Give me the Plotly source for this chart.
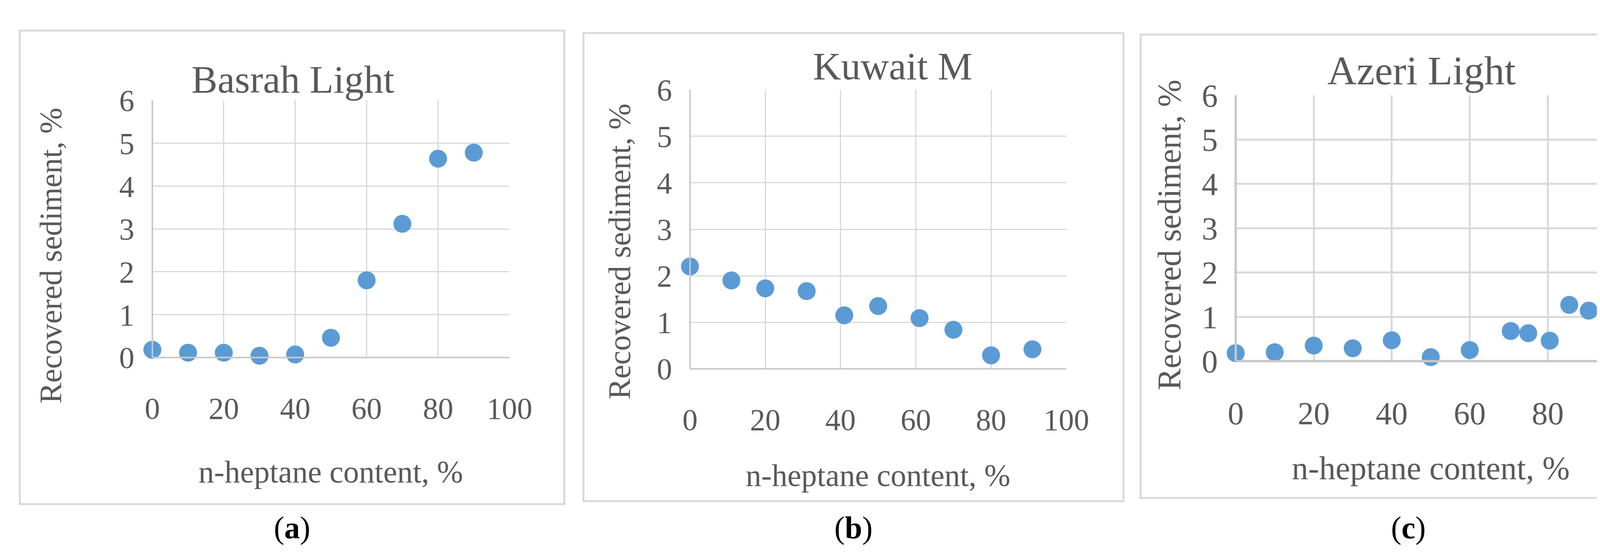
import plotly.graph_objects as go

# Basrah Light
x_a = [0, 10, 20, 30, 40, 50, 60, 70, 80, 90]
y_a = [0.18, 0.11, 0.11, 0.04, 0.07, 0.46, 1.80, 3.12, 4.64, 4.78]
# Kuwait M
x_b = [0, 11, 20, 31, 41, 50, 61, 70, 80, 91]
y_b = [2.20, 1.90, 1.73, 1.67, 1.15, 1.35, 1.09, 0.84, 0.29, 0.42]
# Azeri Light
x_c = [0, 10, 20, 30, 40, 50, 60, 70.5, 75, 80.5, 85.5, 90.5, 96]
y_c = [0.18, 0.20, 0.35, 0.29, 0.47, 0.09, 0.25, 0.68, 0.63, 0.46, 1.27, 1.14, 0.59]

titles = ["Basrah Light", "Kuwait M", "Azeri Light"]
labels = ["a", "b", "c"]
x_ticks = [0, 20, 40, 60, 80, 100]
y_ticks = [0, 1, 2, 3, 4, 5, 6]

W, H = 4375, 1426
def px(v): return v / W
def py(v): return 1 - v / H

# panel geometry in pixels
panels = [
    dict(box=(22, 28, 1443, 1323), px=(368, 1300), py=(922, 219), title_x=735, title_y=162, xt_y=1235, yt_x=103, yt_y=643, fs=78),
    dict(box=(1493, 35, 2902, 1315), px=(1771, 2753), py=(953, 190), title_x=2300, title_y=125, xt_y=1244, yt_x=1587, yt_y=632, fs=78),
    dict(box=(2947, 39, 4345, 1306), px=(3195, 4213), py=(932, 205), title_x=3680, title_y=137, xt_y=1225, yt_x=3022, yt_y=587, fs=82),
]
cap_y = 1388

grey = "#595959"
font = "Liberation Serif"
fig = go.Figure()
data = [(x_a, y_a), (x_b, y_b), (x_c, y_c)]
shapes, annos = [], []
for i, (p, (xs, ys)) in enumerate(zip(panels, data)):
    n = "" if i == 0 else str(i + 1)
    fig.add_trace(go.Scatter(x=xs, y=ys, mode="markers", xaxis="x" + n, yaxis="y" + n,
                             marker=dict(size=46, color="#5b9bd5"), cliponaxis=False, showlegend=False))
    gw = 5 if i == 2 else 3
    fig.update_layout(**{
        "xaxis" + n: dict(domain=[px(p["px"][0]), px(p["px"][1])], range=[0, 100], tickvals=x_ticks,
                          showgrid=True, gridcolor="#d9d9d9", gridwidth=gw, zeroline=False,
                          showline=False, ticks="", anchor="y" + n, ticklabelstandoff=78,
                          tickfont=dict(family=font, size=p["fs"], color=grey), fixedrange=True),
        "yaxis" + n: dict(domain=[py(p["py"][0]), py(p["py"][1])], range=[0, 6], tickvals=y_ticks,
                          showgrid=True, gridcolor="#d9d9d9", gridwidth=gw, zeroline=False,
                          showline=False, ticks="", anchor="x" + n, ticklabelstandoff=45,
                          tickfont=dict(family=font, size=p["fs"], color=grey), fixedrange=True),
    })
    x0, x1 = p["px"]
    # bottom & left frame of grid
    shapes.append(dict(type="line", xref="paper", yref="paper", x0=px(x0), x1=px(x1), y0=py(p["py"][0]), y1=py(p["py"][0]),
                       line=dict(color="#c8c8c8", width=gw + 1)))
    shapes.append(dict(type="line", xref="paper", yref="paper", x0=px(x0), x1=px(x0), y0=py(p["py"][0]), y1=py(p["py"][1]),
                       line=dict(color="#c8c8c8", width=gw + 1)))
    b = p["box"]
    shapes.append(dict(type="rect", xref="paper", yref="paper", x0=px(b[0]), x1=px(b[2]), y0=py(b[1]), y1=py(b[3]),
                       line=dict(color="#d9d9d9", width=5), layer="below"))
    cx = px((x0 + x1) / 2)
    common = dict(xref="paper", yref="paper", showarrow=False, xanchor="center", yanchor="middle")
    annos.append(dict(text=titles[i], x=px(p["title_x"]), y=py(p["title_y"]),
                      font=dict(family=font, size=p["fs"] + 22, color=grey), **common))
    annos.append(dict(text="n-heptane content, %", x=cx, y=py(p["xt_y"]),
                      font=dict(family=font, size=p["fs"] + 2, color=grey), **common))
    annos.append(dict(text="Recovered sediment, %", x=px(p["yt_x"]), y=py(p["yt_y"]), textangle=-90,
                      font=dict(family=font, size=p["fs"] + 2, color=grey), **common))
    annos.append(dict(text="(<b>" + labels[i] + "</b>)", x=px((b[0] + b[2]) / 2), y=py(cap_y),
                      font=dict(family=font, size=80, color="black"), **common))

fig.update_layout(width=W, height=H, margin=dict(l=0, r=0, t=0, b=0), paper_bgcolor="white",
                  plot_bgcolor="white", shapes=shapes, annotations=annos)
fig.write_html("out.html")
